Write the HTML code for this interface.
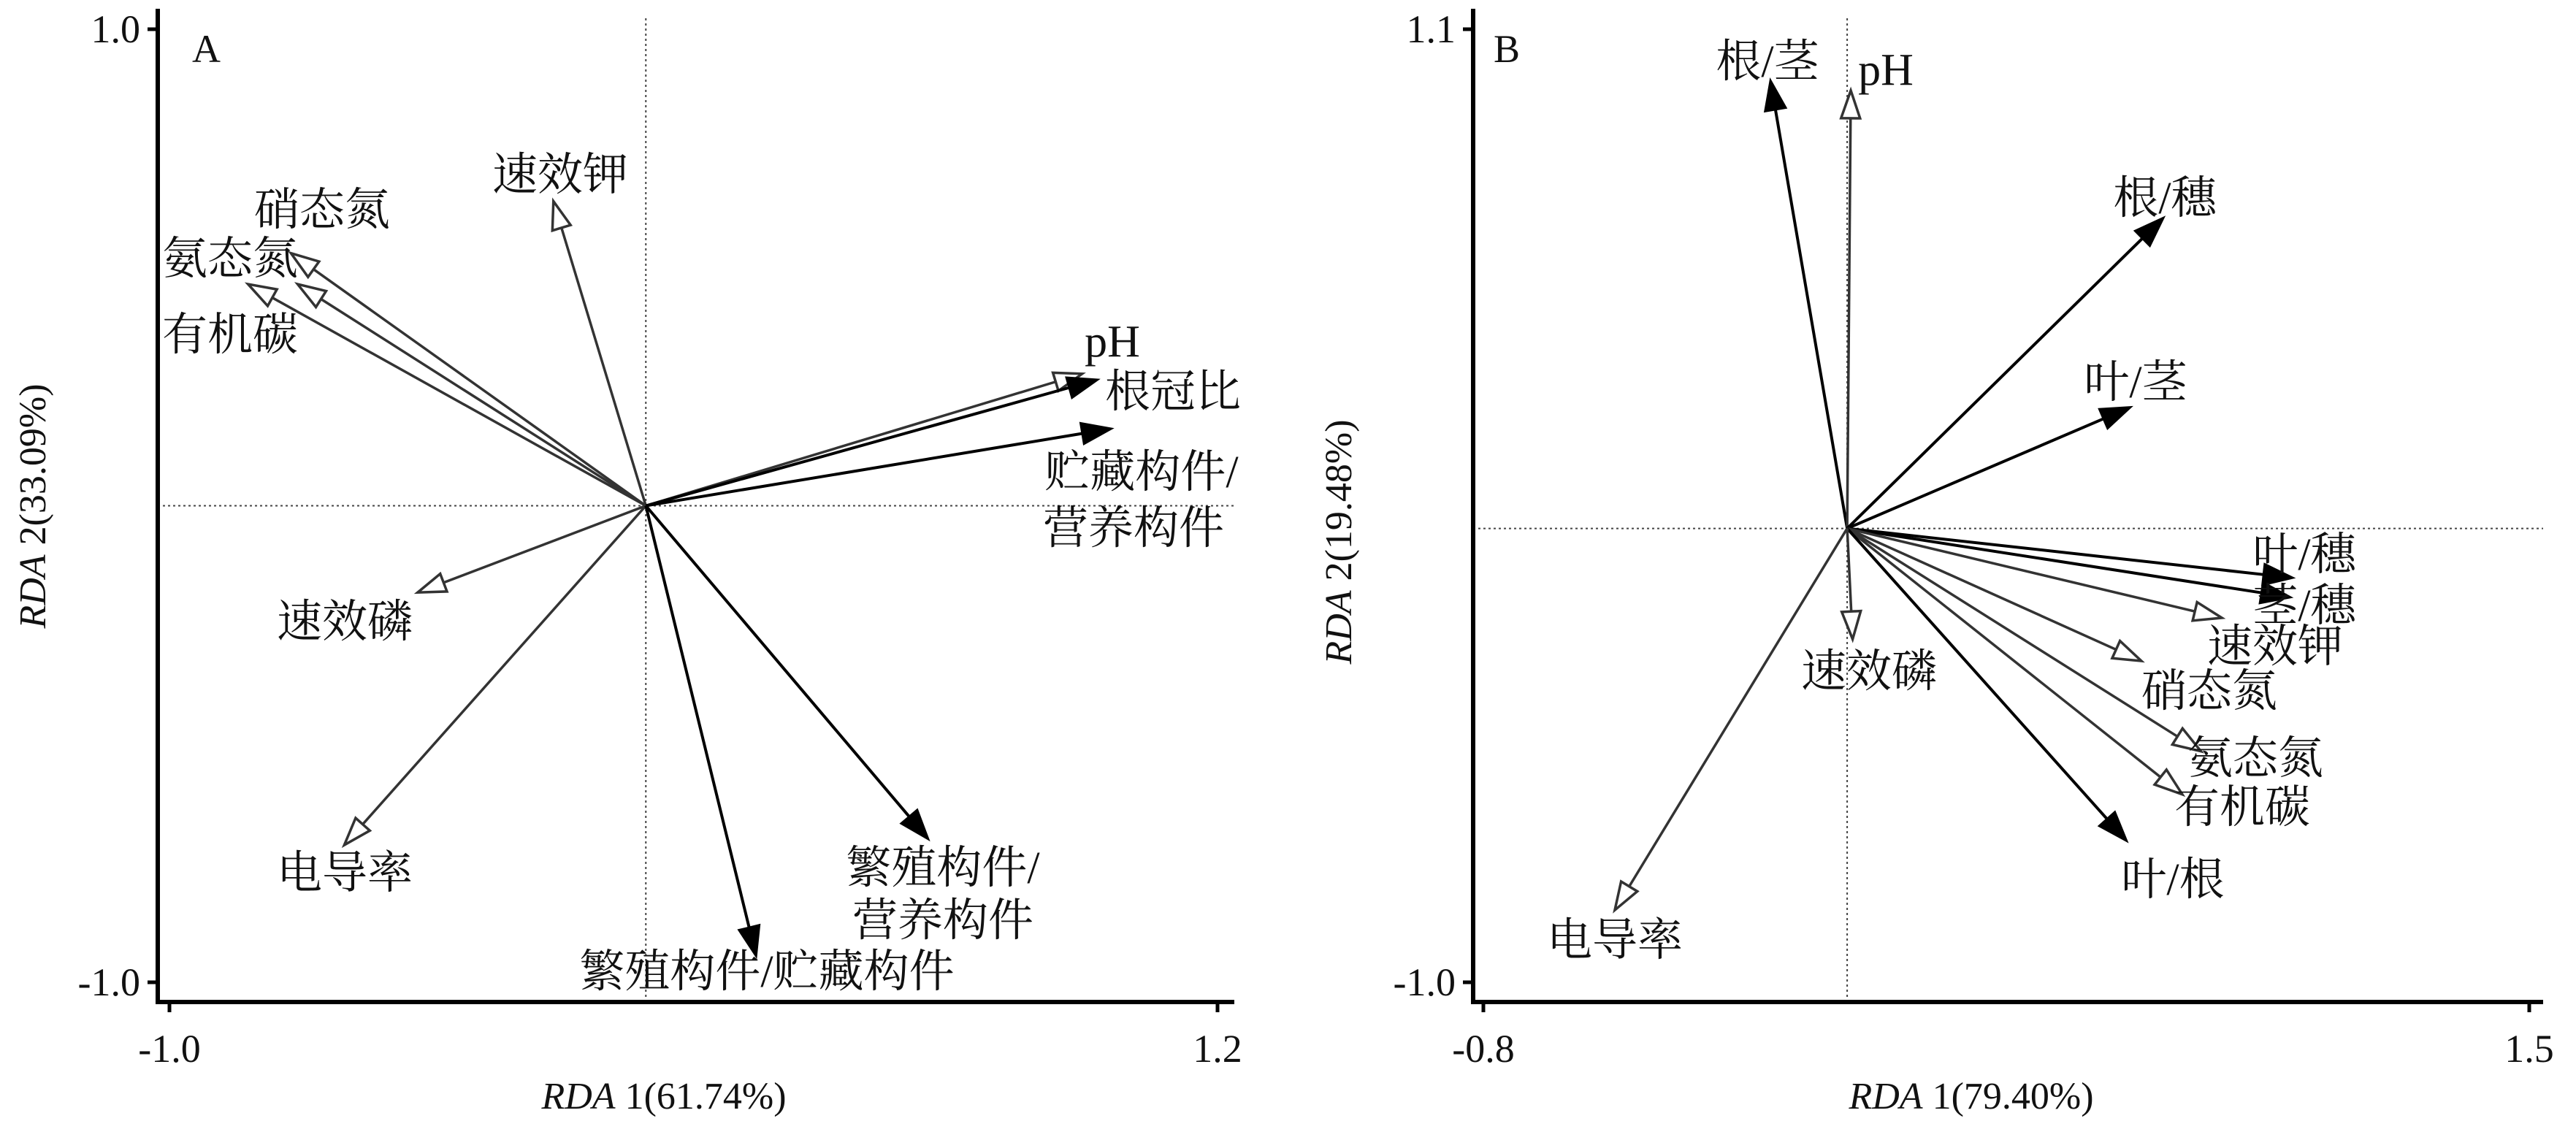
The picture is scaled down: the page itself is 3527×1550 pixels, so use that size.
<!DOCTYPE html>
<html><head><meta charset="utf-8"><style>
body{margin:0;background:#fff}
svg text{font-family:"Liberation Serif","Noto Serif CJK SC","Noto Sans CJK SC",serif;fill:#111}
</style></head><body>
<svg id="chart" width="3527" height="1545" viewBox="0 0 3527 1545" xmlns="http://www.w3.org/2000/svg"></svg>
<script>
// Panel A data
const aNames = ["速效钾","硝态氮","氨态氮","有机碳","pH","根冠比","贮藏构件/营养构件","速效磷","电导率","繁殖构件/营养构件","繁殖构件/贮藏构件"];
const aX = [-0.194,-0.745,-0.731,-0.835,0.916,0.950,0.979,-0.479,-0.633,0.594,0.232];
const aY = [0.639,0.530,0.465,0.465,0.277,0.265,0.162,-0.182,-0.712,-0.701,-0.947];
const aFilled = [0,0,0,0,0,1,1,0,0,1,1];
const aXTicks = [-1.0,1.2];
const aYTicks = [1.0,-1.0];
// Panel B data
const bNames = ["根/茎","pH","根/穗","叶/茎","叶/穗","茎/穗","速效钾","硝态氮","氨态氮","有机碳","叶/根","速效磷","电导率"];
const bX = [-0.169,0.008,0.697,0.625,0.982,0.977,0.824,0.647,0.778,0.737,0.616,0.012,-0.511];
const bY = [0.989,0.965,0.686,0.268,-0.109,-0.152,-0.197,-0.292,-0.491,-0.586,-0.690,-0.244,-0.841];
const bFilled = [1,0,1,1,1,1,0,0,0,0,1,0,0];
const bXTicks = [-0.8,1.5];
const bYTicks = [1.1,-1.0];

const NS="http://www.w3.org/2000/svg";
const svg=document.getElementById('chart');
function mk(tag,attrs,parent,txt){const e=document.createElementNS(NS,tag);for(const k in attrs)e.setAttribute(k,attrs[k]);if(txt!==undefined)e.textContent=txt;(parent||svg).appendChild(e);return e;}

function panel(cfg){
  const g=mk('g',{});
  
  
  const sx=v=>cfg.px0+(v-cfg.xd0)/(cfg.xd1-cfg.xd0)*(cfg.px1-cfg.px0);
  const sy=v=>cfg.py0+(v-cfg.yd0)/(cfg.yd1-cfg.yd0)*(cfg.py1-cfg.py0);
  const ox=sx(0), oy=sy(0);
  // dotted reference lines
  const dv=mk('line',{x1:ox,y1:25,x2:ox,y2:cfg.axisY,stroke:'#444','stroke-width':2,'stroke-dasharray':'3,4'},g);
  
  const dh=mk('line',{x1:cfg.axisX,y1:oy,x2:cfg.axisEnd,y2:oy,stroke:'#444','stroke-width':2,'stroke-dasharray':'3,4'},g);
  
  // axes
  const ya=mk('line',{x1:cfg.axisX,y1:12,x2:cfg.axisX,y2:cfg.axisY+3,stroke:'#000','stroke-width':6},g);
  
  const xa=mk('line',{x1:cfg.axisX-3,y1:cfg.axisY,x2:cfg.axisEnd,y2:cfg.axisY,stroke:'#000','stroke-width':6},g);
  
  cfg.yt.forEach(v=>{
    const y=sy(v);
    mk('line',{x1:cfg.axisX-14,y1:y,x2:cfg.axisX,y2:y,stroke:'#000','stroke-width':5},g);
    const t=mk('text',{x:cfg.axisX-24,y:y+18,'text-anchor':'end','font-size':54},g,v.toFixed(1));
    
  });
  cfg.xt.forEach(v=>{
    const x=sx(v);
    mk('line',{x1:x,y1:cfg.axisY,x2:x,y2:cfg.axisY+14,stroke:'#000','stroke-width':5},g);
    const t=mk('text',{x:x,y:cfg.axisY+82,'text-anchor':'middle','font-size':54},g,v.toFixed(1));
    
  });
  const pl=mk('text',{x:cfg.letterX,y:85,'font-size':54},g,cfg.letter);
  
  const xt=mk('text',{x:cfg.xTitleX,y:1518,'text-anchor':'middle','font-size':52,fill:'#333'},g);
  
  mk('tspan',{'font-style':'italic'},xt,'RDA');mk('tspan',{},xt,' 1('+cfg.xPct+')');
  const yt=mk('text',{x:0,y:0,'text-anchor':'middle','font-size':52,fill:'#333',transform:`translate(${cfg.yTitleX},${cfg.yTitleY}) rotate(-90)`},g);
  
  mk('tspan',{'font-style':'italic'},yt,'RDA');mk('tspan',{},yt,' 2('+cfg.yPct+')');
  // arrows
  cfg.xs.forEach((v,i)=>{
    const tx=sx(v), ty=sy(cfg.ys[i]);
    const dx=tx-ox, dy=ty-oy, L=Math.hypot(dx,dy), ux=dx/L, uy=dy/L;
    const hl=cfg.filled[i]?42:38, hw=cfg.filled[i]?15:13;
    const bx=tx-ux*hl, by=ty-uy*hl;
    const col=cfg.filled[i]?'#000':'#333';
    const ag=mk('g',{},g);
    
    
    mk('line',{x1:ox,y1:oy,x2:cfg.filled[i]?bx:bx,y2:by,stroke:col,'stroke-width':cfg.filled[i]?4:3.5},ag);
    const pts=`${tx},${ty} ${bx-uy*hw},${by+ux*hw} ${bx+uy*hw},${by-ux*hw}`;
    mk('polygon',{points:pts,fill:cfg.filled[i]?'#000':'#fff',stroke:col,'stroke-width':cfg.filled[i]?2:3.5,'stroke-linejoin':'miter'},ag);
  });
  // labels
  cfg.labels.forEach(l=>{
    const t=mk('text',{x:l[1],y:l[2]+22,'text-anchor':'middle','font-size':62},g,l[0]);
    
  });
}

panel({id:'panel-a',letter:'A',letterX:263,xd0:-1,xd1:1.2,px0:232,px1:1667,yd0:1,yd1:-1,py0:40,py1:1345,
  axisX:216,axisY:1372,axisEnd:1690,xt:aXTicks,yt:aYTicks,xs:aX,ys:aY,filled:aFilled,names:aNames,
  xTitleX:909,xPct:'61.74%',yTitleX:62,yTitleY:693,yPct:'33.09%',
  labels:[["速效钾",767,238],["硝态氮",441,286],["氨态氮",315,353],["有机碳",315,457],["pH",1523,466],["根冠比",1606,535],
  ["贮藏构件/",1563,645],["营养构件",1552,722],["速效磷",472,850],["电导率",472,1194],["繁殖构件/",1291,1187],["营养构件",1291,1259],["繁殖构件/贮藏构件",1050,1329]]});

panel({id:'panel-b',letter:'B',letterX:2045,xd0:-0.8,xd1:1.5,px0:2031,px1:3463,yd0:1.1,yd1:-1,py0:40,py1:1345,
  axisX:2017,axisY:1372,axisEnd:3482,xt:bXTicks,yt:bYTicks,xs:bX,ys:bY,filled:bFilled,names:bNames,
  xTitleX:2699,xPct:'79.40%',yTitleX:1850,yTitleY:742,yPct:'19.48%',
  labels:[["根/茎",2420,83],["pH",2582,94],["根/穗",2964,270],["叶/茎",2924,522],["叶/穗",3155,758],["茎/穗",3155,828],
  ["速效钾",3115,884],["硝态氮",3025,945],["速效磷",2559,918],["氨态氮",3088,1037],["有机碳",3070,1104],["叶/根",2975,1203],["电导率",2211,1286]]});
</script>
</body></html>
